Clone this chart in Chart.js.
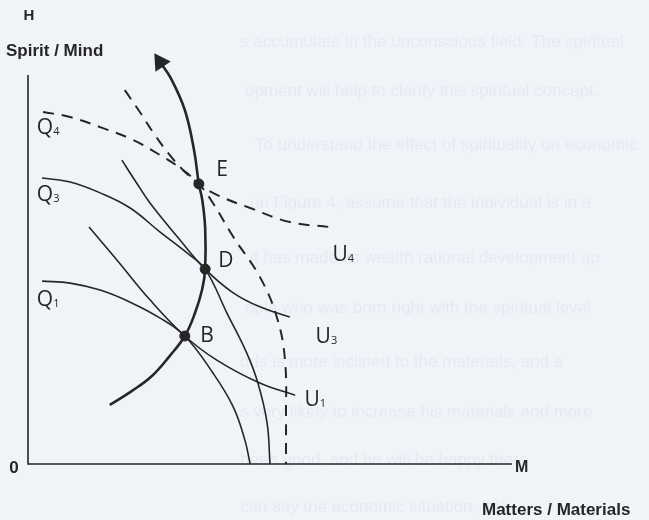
<!DOCTYPE html>
<html>
<head>
<meta charset="utf-8">
<script src="https://cdn.jsdelivr.net/npm/chart.js@4"></script>
<style>
  html, body { margin: 0; padding: 0; background: #f0f4f9; }
  canvas { display: block; }
</style>
</head>
<body>
<canvas id="frontierChart" width="649" height="520"></canvas>
<script>
"use strict"

// every curve is a list of [M, H] pairs: M = matters / materials, H = spirit / mind (0..100)
const expansionPath = [
  [16.9, 15.2], [21.5, 18.8], [25.6, 22.6], [29.3, 27.8], [32.4, 32.9],
  [34.5, 38.8], [36.0, 45.0], [36.6, 50.1], [36.6, 60.7], [36.0, 67.9],
  [35.3, 72.0], [34.3, 80.7], [32.4, 91.0], [29.5, 99.2], [27.3, 103.3]
];
const q1 = [
  [2.9, 47.0], [8.7, 46.5], [14.9, 44.7], [21.1, 41.6], [27.3, 37.5],
  [32.4, 32.9], [38.2, 23.4], [42.4, 14.7], [44.8, 6.2], [45.9, 0]
];
const q3 = [
  [2.9, 73.5], [8.7, 72.5], [14.9, 69.7], [21.1, 65.8], [27.3, 59.6],
  [32.9, 54.2], [36.6, 50.1], [41.1, 38.8], [45.2, 28.5], [47.5, 20.8],
  [49.4, 10.5], [50.0, 0]
];
const q4 = [
  [3.1, 90.5], [8.7, 89.2], [14.9, 86.6], [21.7, 83.3], [27.3, 79.4],
  [31.4, 76.1], [35.3, 72.0], [38.2, 67.1], [42.4, 58.4], [47.9, 48.1],
  [51.4, 37.8], [53.1, 26.7], [53.3, 11.3], [53.3, 0]
];
const u1 = [
  [12.6, 60.9], [18.4, 52.4], [25.2, 42.2], [32.4, 32.9],
  [39.0, 26.7], [47.9, 20.8], [55.2, 17.7]
];
const u3 = [
  [19.4, 78.1], [22.3, 72.5], [25.2, 67.1], [31.4, 57.6], [36.6, 50.1],
  [42.4, 44.0], [47.9, 40.4], [54.1, 37.8]
];
const u4 = [
  [20.0, 96.1], [23.1, 90.5], [26.2, 84.6], [29.3, 79.4], [32.4, 75.1],
  [35.3, 72.0], [39.0, 69.2], [45.9, 65.8], [54.1, 62.2], [62.4, 60.9]
];
const equilibria = [['B', 32.4, 32.9], ['D', 36.6, 50.1], ['E', 35.3, 72.0]];

// where each name sits, in the same units as the curves
const curveLabels = [
  { text: 'Q', sub: '4', at: [3.5, 86.4] },
  { text: 'Q', sub: '3', at: [3.5, 69.2] },
  { text: 'Q', sub: '1', at: [3.5, 42.2] },
  { text: 'U', sub: '4', at: [64.5, 53.7] },
  { text: 'U', sub: '3', at: [61.0, 32.6] },
  { text: 'U', sub: '1', at: [58.7, 16.5] },
  { text: 'E', sub: '', at: [40.1, 75.6] },
  { text: 'D', sub: '', at: [40.9, 52.2] },
  { text: 'B', sub: '', at: [37.0, 32.9] }
];

// page text showing faintly through the paper
const pageLines = [
  [240, 42, 's accumulate in the unconscious field. The spiritual'],
  [245, 91, 'opment will help to clarify this spiritual concept.'],
  [255, 145, 'To understand the effect of spirituality on economic'],
  [250, 203, 'on Figure 4, assume that the individual is in a'],
  [250, 258, 'it has made its wealth rational development up'],
  [245, 308, 'ople who was born right with the spiritual level'],
  [240, 362, 'ods is more inclined to the materials, and a'],
  [240, 412, 's very likely to increase his materials and more'],
  [240, 460, 'been good, and he will be happy there'],
  [240, 507, 'can say the economic situation, it is']
];

const toXY = pts => pts.map(p => ({ x: p[0], y: p[1] }));
const ink = '#262626';

function curve(pts, opts) {
  return Object.assign({
    data: toXY(pts),
    showLine: true,
    borderColor: ink,
    borderWidth: 1.6,
    tension: 0.4,
    pointRadius: 0,
    fill: false
  }, opts || {});
}

const backdrop = {
  id: 'backdrop',
  beforeDraw(chart) {
    const c = chart.ctx;
    c.save();
    c.fillStyle = '#f0f4f9';
    c.fillRect(0, 0, chart.width, chart.height);
    c.fillStyle = 'rgba(150, 165, 190, 0.12)';
    c.font = '17px "Liberation Sans", sans-serif';
    c.textBaseline = 'middle';
    pageLines.forEach(l => c.fillText(l[2], l[0], l[1]));
    c.restore();
  }
};

const labels = {
  id: 'labels',
  afterDatasetsDraw(chart) {
    const c = chart.ctx;
    const sx = chart.scales.x, sy = chart.scales.y;
    c.save();
    c.fillStyle = ink;
    c.textBaseline = 'middle';
    curveLabels.forEach(l => {
      const px = sx.getPixelForValue(l.at[0]);
      const py = sy.getPixelForValue(l.at[1]);
      c.font = '21px "Open Sans", sans-serif';
      c.textAlign = 'center';
      c.fillText(l.text, px, py);
      if (l.sub) {
        const w = c.measureText(l.text).width;
        c.font = '11px "Open Sans", sans-serif';
        c.textAlign = 'left';
        c.fillText(l.sub, px + w / 2, py + 4);
      }
    });

    // axis names
    const ox = sx.getPixelForValue(0), oy = sy.getPixelForValue(0);
    const top = sy.getPixelForValue(100), end = sx.getPixelForValue(100);
    c.font = 'bold 15px "Liberation Sans", sans-serif';
    c.textAlign = 'center';
    c.fillText('H', ox + 1, top - 59);
    c.font = 'bold 17px "Liberation Sans", sans-serif';
    c.textAlign = 'left';
    c.fillText('Spirit / Mind', 6, top - 24);
    c.font = 'bold 16px "Liberation Sans", sans-serif';
    c.fillText('M', end + 3, oy + 4);
    c.font = 'bold 17px "Liberation Sans", sans-serif';
    c.fillText('Matters / Materials', 482, oy + 46);
    c.textAlign = 'center';
    c.fillText('0', ox - 14, oy + 4);
    c.restore();
  }
};

function drawFrontiers() {
  const last = expansionPath.length - 1;
  const options = {
    type: 'scatter',
    data: {
      datasets: [
        // axes
        curve([[0, 100], [0, 0], [100, 0]], { tension: 0, borderWidth: 1.6 }),
        curve(q1),
        curve(q3),
        curve(u1),
        curve(u3),
        curve(q4, { borderDash: [11, 8], borderWidth: 2 }),
        curve(u4, { borderDash: [11, 8], borderWidth: 2 }),
        curve(expansionPath, {
          borderWidth: 2.6,
          pointRadius: ctx => ctx.dataIndex === last ? 8 : 0,
          pointStyle: 'triangle',
          pointBackgroundColor: ink,
          pointBorderColor: ink,
          pointRotation: ctx => {
            const sx = ctx.chart.scales.x, sy = ctx.chart.scales.y;
            const a = expansionPath[last - 1], b = expansionPath[last];
            const dx = sx.getPixelForValue(b[0]) - sx.getPixelForValue(a[0]);
            const dy = sy.getPixelForValue(b[1]) - sy.getPixelForValue(a[1]);
            return Math.atan2(dx, -dy) * 180 / Math.PI;
          }
        }),
        {
          data: equilibria.map(p => ({ x: p[1], y: p[2] })),
          showLine: false,
          pointRadius: 5,
          pointBackgroundColor: ink,
          pointBorderColor: ink
        }
      ]
    },
    options: {
      responsive: false,
      animation: false,
      devicePixelRatio: 1,
      layout: { padding: 0, autoPadding: false },
      plugins: { legend: { display: false }, tooltip: { enabled: false } },
      scales: {
        x: { type: 'linear', display: false, min: -5.79, max: 128.31 },
        y: { type: 'linear', display: false, min: -14.40, max: 119.28 }
      },
      clip: false
    },
    plugins: [backdrop, labels]
  };
  new Chart(document.getElementById('frontierChart'), options);
}

document.addEventListener("DOMContentLoaded", drawFrontiers);
</script>
</body>
</html>
